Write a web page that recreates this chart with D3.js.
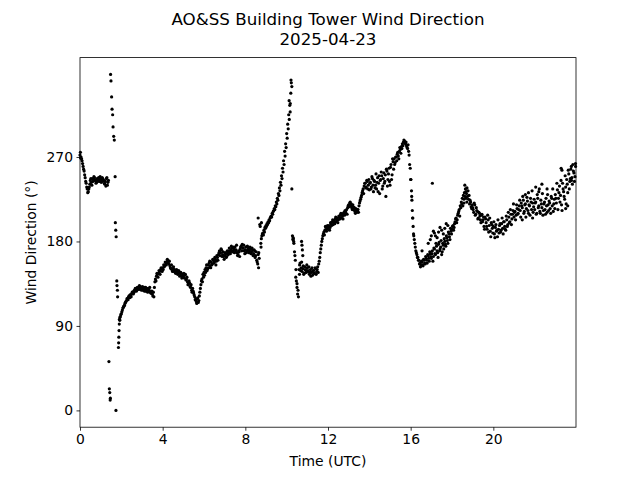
<!DOCTYPE html>
<html><head><meta charset="utf-8">
<script src="https://cdn.jsdelivr.net/npm/d3@7"></script>
<style>body{margin:0;background:#fff}svg{display:block}</style>
</head><body>
<svg id="c" width="640" height="480"></svg>
<script>
const titleLines = ["AO&SS Building Tower Wind Direction", "2025-04-23"];
const xLabel = "Time (UTC)";
const yLabel = "Wind Direction (°)";
const xTicks = [0, 4, 8, 12, 16, 20];
const yTicks = [0, 90, 180, 270];
const stepMinutes = 3;
// samples every 3 minutes starting at 00:00, one row per hour (20 values)
const direction = [
272,270,266,260,255,248,242,236,233,238,245,243,247,246,248,245,243,246,248,247,
246,244,247,245,241,239,248,243,null,null,null,null,null,null,null,null,null,null,92,100,
103,107,110,112,115,117,119,121,120,123,124,126,125,127,129,128,130,131,129,131,
130,128,131,129,127,129,130,128,126,125,124,126,131,140,143,145,146,148,150,151,
152,155,154,157,158,160,156,154,151,150,151,148,149,147,148,146,147,144,146,143,
143,141,145,140,137,135,136,131,128,130,125,121,118,114,120,117,126,134,140,145,
147,150,152,149,155,157,154,158,156,160,158,161,159,163,166,170,168,171,166,164,
165,167,164,168,170,169,171,173,170,172,174,171,168,166,169,172,175,177,173,170,
171,168,175,173,170,172,169,171,167,170,165,160,156,168,198,178,186,189,192,195,
197,199,201,203,205,207,210,212,215,218,222,226,231,237,243,250,258,266,276,284,
295,305,315,325,338,345,182,178,165,150,135,128,150,157,152,148,154,146,150,147,
152,148,145,150,147,144,149,146,151,148,153,156,163,172,180,186,190,192,195,193,
194,197,195,199,201,198,202,204,201,205,203,206,208,205,207,210,208,212,214,216,
219,221,218,216,219,214,212,215,211,214,218,223,227,232,236,239,242,238,244,240,
235,243,238,247,233,244,240,236,248,242,231,246,250,239,253,244,228,255,246,258,
240,262,251,265,268,264,270,273,271,276,278,281,284,286,287,284,282,279,276,262,
246,228,205,186,178,170,166,163,160,157,155,158,154,160,156,162,157,165,159,167,
162,170,164,172,166,175,168,177,170,174,166,178,172,180,175,184,178,188,182,191,
193,197,195,201,205,203,210,214,218,222,226,229,232,236,231,228,225,220,222,215,
216,211,219,209,213,204,211,207,200,209,203,196,206,200,193,203,197,191,200,194,
196,188,195,191,185,193,197,190,199,194,201,196,192,203,198,206,201,209,204,213,
206,212,208,215,210,218,213,221,216,224,212,220,215,223,210,218,226,214,221,217,
214,222,210,226,218,212,224,216,208,220,214,226,211,219,223,215,228,218,212,225,
230,221,235,226,239,229,219,242,233,225,238,246,232,252,244,257,248,262,253,249
];
// second reading in each interval, 1.5 minutes after the first
const directionB = [
269,268,263,257,251,244,238,232,236,241,247,240,244,249,245,242,247,245,244,249,
243,248,245,242,244,247,240,245,null,null,null,null,null,null,null,null,null,null,96,102,
105,109,111,114,116,119,118,122,123,121,126,124,128,130,127,131,129,133,132,128,
132,130,127,131,130,126,128,131,125,127,122,121,137,138,146,142,149,145,152,148,
150,153,158,155,161,157,159,152,155,148,153,150,146,150,145,149,143,147,141,145,
146,144,139,142,134,138,132,134,126,127,123,118,116,119,115,122,130,138,137,142,
144,147,155,151,152,159,152,155,161,157,163,155,165,160,168,165,172,164,169,161,
168,163,170,166,173,167,175,169,174,168,170,176,165,170,164,174,170,173,176,167,
174,170,171,168,174,167,173,165,171,163,169,158,166,null,null,183,188,187,190,194,
196,198,200,202,206,206,209,213,214,217,220,224,229,234,240,247,254,262,271,280,
290,300,310,327,349,null,183,null,null,null,null,null,155,149,158,151,145,153,149,155,
149,153,147,143,152,149,146,152,145,150,147,159,168,176,183,188,187,196,191,197,
196,192,200,197,203,200,199,206,203,200,207,204,210,209,204,211,213,210,209,218,
217,222,220,214,217,216,210,213,214,211,221,225,229,234,231,242,237,245,236,246,
242,236,249,240,245,237,252,243,233,250,245,254,236,247,242,251,257,239,252,244,
259,246,268,257,262,270,266,275,268,280,274,279,282,288,285,286,280,283,272,null,
null,null,null,182,174,168,163,160,156,153,159,155,161,157,164,160,166,162,169,164,
167,159,173,167,178,170,163,179,172,181,169,176,183,177,186,181,190,185,194,188,
196,192,199,204,200,208,212,207,216,220,218,225,228,233,237,234,229,224,217,219,
214,221,208,216,212,205,210,203,208,201,206,193,204,196,208,190,205,185,198,189,
201,184,198,192,203,189,199,192,205,188,201,193,207,196,211,200,214,198,209,220,
211,203,219,209,214,224,206,218,228,210,219,206,227,213,219,208,222,234,211,225,
221,209,230,216,236,210,220,231,213,222,209,218,230,213,221,210,226,236,220,215,
226,242,214,232,222,245,213,236,228,250,220,241,256,236,247,260,241,255,244,263
];
// extra readings during fast changes and scattered gusts
const extraHour = [
0.02,
1.40,1.42,1.44,1.46,1.47,1.48,1.50,1.53,1.55,1.58,1.60,1.63,1.66,1.70,1.71,1.73,1.74,1.75,1.78,1.79,1.81,1.82,1.86,1.87,1.88,1.89,1.91,1.93,
8.62,8.64,8.67,8.72,8.76,8.78,
10.12,10.17,10.21,10.25,10.28,10.31,10.34,10.38,10.42,10.44,10.47,10.50,10.53,10.57,10.62,10.72,10.74,10.76,10.78,
15.98,16.01,16.04,16.06,16.08,16.10,16.12,16.14,
16.55,16.85,16.95,17.00,17.05,17.10,17.15,17.20,17.28,17.35,17.42,17.50,17.58,17.65,17.72,17.80,
18.58,18.62,18.68,18.72,
21.40,21.55,21.70,21.90,
22.05,22.20,22.35,22.60,
23.28,23.32,23.50,23.60,23.78,23.98
];
const extraDir = [
275,
52,23,19,11,13,358,351,334,321,315,302,292,288,249,200,192,0,185,138,133,128,121,67,72,78,85,97,99,
205,152,162,196,174,200,
330,318,352,236,186,184,180,169,160,142,138,131,124,121,145,180,176,171,165,
258,246,234,224,213,205,196,188,
170,178,182,186,242,191,189,186,184,190,195,192,188,194,199,197,
221,240,226,222,
203,230,232,205,
238,233,241,236,
258,256,215,218,245,260
];

const points = [];
direction.forEach((d, i) => { if (d !== null) points.push({h: i * stepMinutes / 60, d}); });
directionB.forEach((d, i) => { if (d !== null) points.push({h: (i + 0.5) * stepMinutes / 60, d}); });
extraHour.forEach((h, i) => points.push({h, d: extraDir[i]}));

const L = 80, R = 576, T = 57.6, B = 427.2;
const dMin = d3.min(points, p => p.d), dMax = d3.max(points, p => p.d);
const pad = (dMax - dMin) * 0.05;
const x = d3.scaleLinear().domain([0, 24]).range([L, R]);
const y = d3.scaleLinear().domain([dMin - pad, dMax + pad]).range([B, T]);

const svg = d3.select("#c");
const font = "'DejaVu Sans', sans-serif";

svg.append("g").selectAll("circle").data(points).join("circle")
  .attr("cx", p => x(p.h)).attr("cy", p => y(p.d)).attr("r", 1.6).attr("fill", "#000");

const xa = svg.append("g").attr("transform", `translate(0,${B})`)
  .call(d3.axisBottom(x).tickValues(xTicks).tickSize(3.5).tickPadding(3.5).tickFormat(d3.format("d")));
const ya = svg.append("g").attr("transform", `translate(${L},0)`)
  .call(d3.axisLeft(y).tickValues(yTicks).tickSize(3.5).tickPadding(3.5).tickFormat(d3.format("d")));
[xa, ya].forEach(a => {
  a.select(".domain").remove();
  a.selectAll("line").attr("stroke", "#000").attr("stroke-width", 0.8);
  a.selectAll("text").attr("fill", "#000").style("font-family", font).style("font-size", "13.9px");
});

svg.append("rect").attr("x", L).attr("y", T).attr("width", R - L).attr("height", B - T)
  .attr("fill", "none").attr("stroke", "#000").attr("stroke-width", 0.8);

svg.append("text").attr("x", (L + R) / 2).attr("y", 466).attr("text-anchor", "middle")
  .style("font-family", font).style("font-size", "13.9px").text(xLabel);
svg.append("text").attr("transform", `translate(36,${(T + B) / 2}) rotate(-90)`).attr("text-anchor", "middle")
  .style("font-family", font).style("font-size", "13.9px").text(yLabel);

titleLines.forEach((t, i) => {
  svg.append("text").attr("x", (L + R) / 2).attr("y", 25 + i * 20).attr("text-anchor", "middle")
    .style("font-family", font).style("font-size", "16.7px").text(t);
});
</script>
</body></html>
